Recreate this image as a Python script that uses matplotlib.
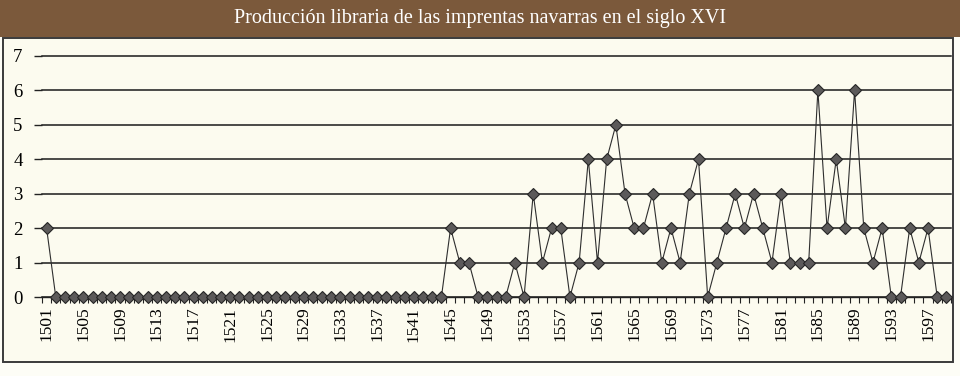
import matplotlib
matplotlib.use("Agg")
import matplotlib.pyplot as plt
from matplotlib.patches import Rectangle

years = list(range(1501, 1600))
values = (
    [2] + [0] * 43 +                      # 1501-1544
    [2, 1, 1, 0, 0, 0, 0, 1, 0, 3,        # 1545-1554
     1, 2, 2, 0, 1, 4, 1, 4, 5, 3,        # 1555-1564
     2, 2, 3, 1, 2, 1, 3, 4, 0, 1,        # 1565-1574
     2, 3, 2, 3, 2, 1, 3, 1, 1, 1,        # 1575-1584
     6, 2, 4, 2, 6, 2, 1, 2, 0, 0,        # 1585-1594
     2, 1, 2, 0, 0]                       # 1595-1599
)
title = "Producción libraria de las imprentas navarras en el siglo XVI"
yticks = [0, 1, 2, 3, 4, 5, 6, 7]

W, H = 960, 376
serif = ["Liberation Serif", "DejaVu Serif"]
fig = plt.figure(figsize=(W / 100, H / 100), dpi=100, facecolor="#fdfdf6")

# title bar
fig.patches.append(Rectangle((0, 1 - 37 / H), 1, 37 / H, transform=fig.transFigure,
                             facecolor="#7b593b", edgecolor="none", zorder=-2))
fig.text(0.5, 1 - 19 / H, title, ha="center", va="center", color="white",
         fontsize=14.5, family=serif)

# chart frame
fig.patches.append(Rectangle((3 / W, 1 - 362 / H), 950 / W, (362 - 38) / H,
                             transform=fig.transFigure, facecolor="#fcfbef",
                             edgecolor="#3a3a3a", linewidth=1.4, zorder=-2))

left, right = 42, 951
top, bottom = 56, 297
ax = fig.add_axes([left / W, 1 - bottom / H, (right - left) / W, (bottom - top) / H])
ax.set_zorder(2)
ax.set_facecolor("none")

x = list(range(len(years)))
ax.plot(x, values, color="#2e2e2e", linewidth=0.8, marker="D", markersize=6.5,
        markerfacecolor="#5c5a5a", markeredgecolor="#262626", markeredgewidth=0.8,
        zorder=3, clip_on=False)

ax.set_xlim(-0.5, len(years) - 0.5)
ax.set_ylim(0, 7)
ax.set_yticks(yticks)
ax.set_yticklabels([str(v) for v in yticks], family=serif, fontsize=13.5)
ax.yaxis.grid(True, color="#1a1a1a", linewidth=1.1)
for gl in ax.get_ygridlines():
    gl.set_clip_on(False)
ax.set_axisbelow(True)

major = list(range(0, len(years), 4))
ax.set_xticks(major)
ax.set_xticklabels([str(years[i]) for i in major], rotation=90, family=serif,
                   fontsize=12.5)
ax.set_xticks([i + 0.5 for i in range(-1, len(years))], minor=True)
ax.tick_params(axis="x", which="major", length=0, pad=7)
ax.tick_params(axis="x", which="minor", length=4, width=0.8, color="#222")
ax.tick_params(axis="y", length=6, width=1.0, color="#222", pad=8)

for s in ["top", "right", "left"]:
    ax.spines[s].set_visible(False)
ax.spines["bottom"].set_color("#222")
ax.spines["bottom"].set_linewidth(1.0)

fig.savefig("out.png", dpi=100, facecolor=fig.get_facecolor())
